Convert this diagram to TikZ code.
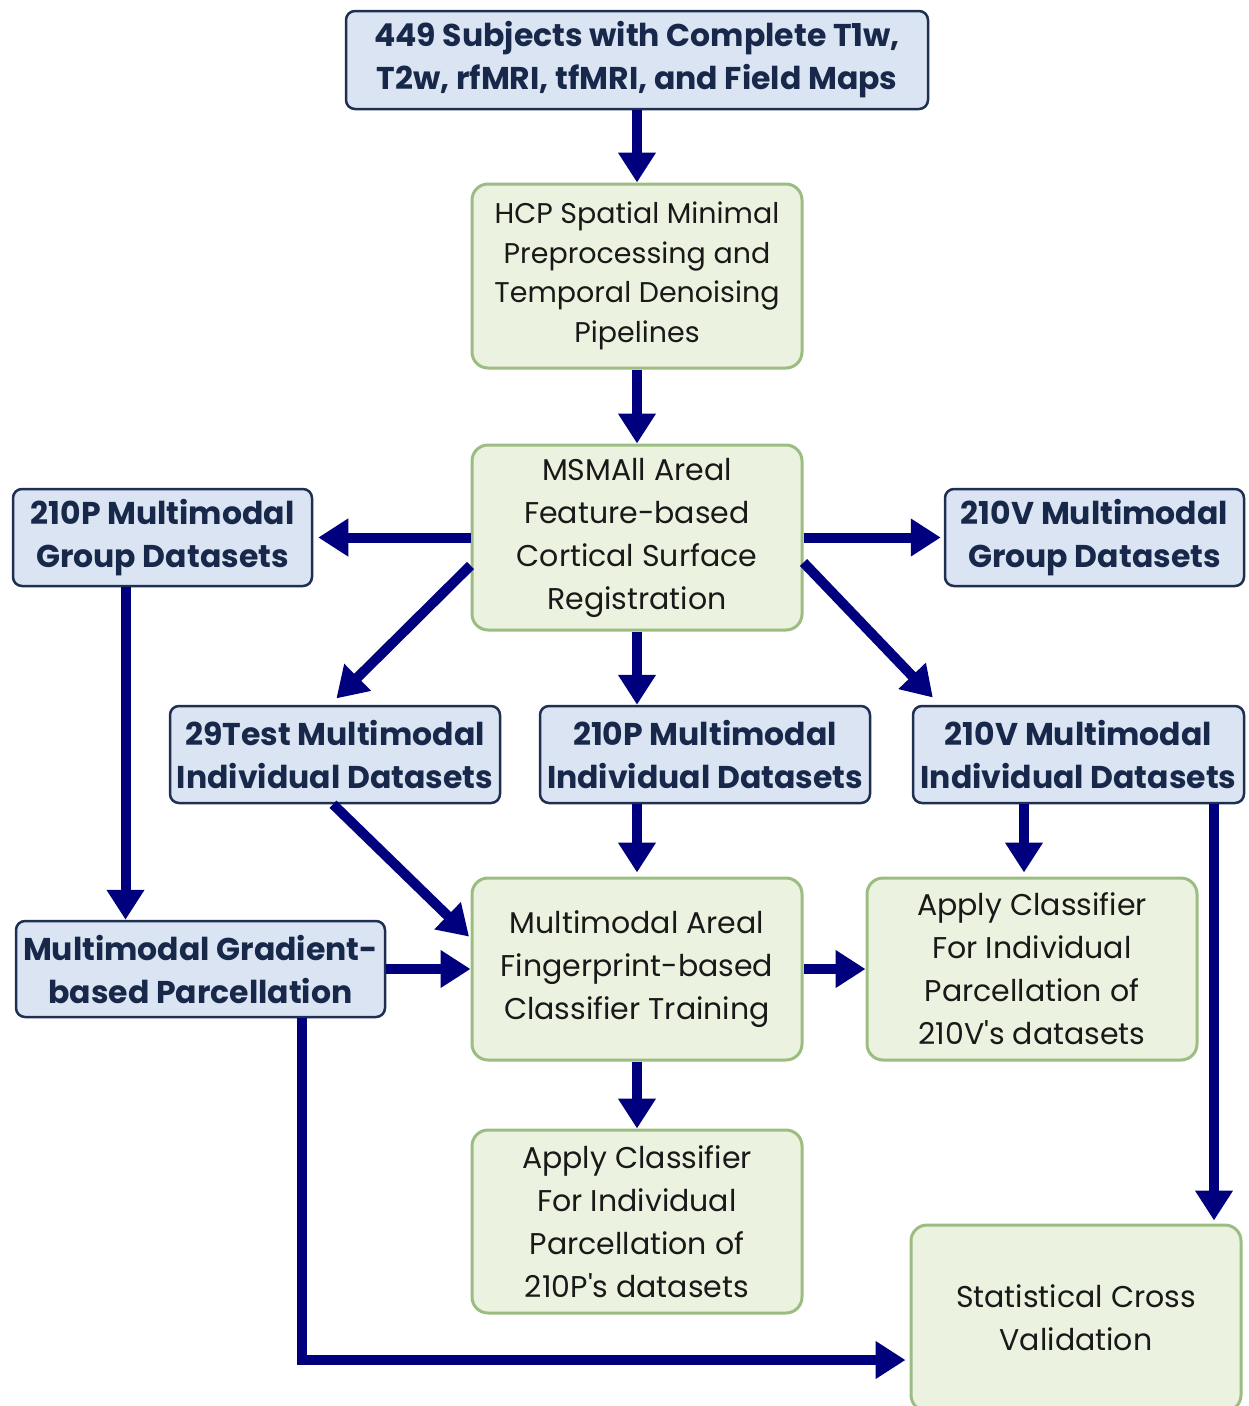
\documentclass[tikz,border=0pt]{standalone}
\usepackage{fontspec}
\setmainfont{Poppins}
\usetikzlibrary{arrows.meta}
\definecolor{bluefill}{HTML}{DAE4F2}
\definecolor{blueline}{HTML}{1E2F52}
\definecolor{bluetext}{HTML}{17284A}
\definecolor{greenfill}{HTML}{EBF3E0}
\definecolor{greenline}{HTML}{9CBD82}
\definecolor{arrowblue}{HTML}{00007F}
\begin{document}
\begin{tikzpicture}[x=1pt,y=-1pt,
    bluebox/.style={draw=blueline,fill=bluefill,line width=2.5pt,rounded corners=9pt,
        align=center,text=bluetext,inner sep=0pt,
        font=\fontsize{31.5}{43}\selectfont\bfseries},
    greenbox/.style={draw=greenline,fill=greenfill,line width=3pt,rounded corners=16pt,
        align=center,text=black!90,inner sep=0pt,minimum width=330pt,
        font=\fontsize{30}{43}\selectfont},
    flow/.style={draw=arrowblue,line width=10pt,-{Triangle[length=30pt,width=36pt]}}]
    \useasboundingbox (0,0) rectangle (1249,1406);
    \node[bluebox,minimum width=582pt,minimum height=98pt] (subj) at (637,60)
        {449 Subjects with Complete T1w,\\T2w, rfMRI, tfMRI, and Field Maps};
    \node[greenbox,minimum height=184pt,font=\fontsize{28.5}{39.5}\selectfont] (hcp) at (637,276)
        {HCP Spatial Minimal\\Preprocessing and\\Temporal Denoising\\Pipelines};
    \node[greenbox,minimum height=185pt] (msm) at (637,537.5)
        {MSMAll Areal\\Feature-based\\Cortical Surface\\Registration};
    \node[bluebox,minimum width=299pt,minimum height=97pt] (pgroup) at (162.5,537.5)
        {210P Multimodal\\Group Datasets};
    \node[bluebox,minimum width=299pt,minimum height=97pt] (vgroup) at (1094.5,537.5)
        {210V Multimodal\\Group Datasets};
    \node[bluebox,minimum width=330pt,minimum height=97pt] (test) at (335,754.5)
        {29Test Multimodal\\Individual Datasets};
    \node[bluebox,minimum width=330pt,minimum height=97pt] (pind) at (705,754.5)
        {210P Multimodal\\Individual Datasets};
    \node[bluebox,minimum width=331pt,minimum height=97pt] (vind) at (1078.5,754.5)
        {210V Multimodal\\Individual Datasets};
    \node[bluebox,minimum width=369pt,minimum height=96pt] (grad) at (200.5,969)
        {Multimodal Gradient-\\based Parcellation};
    \node[greenbox,minimum height=182pt] (train) at (637,969)
        {Multimodal Areal\\Fingerprint-based\\Classifier Training};
    \node[greenbox,minimum height=182pt] (applyv) at (1032,969)
        {Apply Classifier\\For Individual\\Parcellation of\\210V\textquotesingle s datasets};
    \node[greenbox,minimum height=183pt] (applyp) at (637,1221.5)
        {Apply Classifier\\For Individual\\Parcellation of\\210P\textquotesingle s datasets};
    \node[greenbox,minimum height=186pt] (stat) at (1076,1318)
        {Statistical Cross\\Validation};

    \draw[flow] (subj) -- (hcp);
    \draw[flow] (hcp) -- (msm);
    \draw[flow,shorten >=5pt] (msm.west) -- (pgroup.east);
    \draw[flow,shorten >=3pt] (msm.east) -- (vgroup.west);
    \draw[flow,shorten >=9pt] ([yshift=-28pt]msm.west) -- ([xshift=-5pt]test.north);
    \draw[flow,shorten >=10pt] ([yshift=-25pt]msm.east) -- ([xshift=28pt]vind.north west);
    \draw[flow] (msm.south) -- (msm.south |- pind.north);
    \draw[flow] ([xshift=-37pt]pgroup.south) -- ([xshift=-37pt]pgroup.south |- grad.north);
    \draw[flow,shorten >=2pt] ([xshift=-2pt]test.south) -- ([yshift=31pt]train.west);
    \draw[flow,shorten >=4pt] (msm.south |- pind.south) -- (train.north);
    \draw[flow] (grad.east) -- (train.west);
    \draw[flow] (train.east) -- (applyv.west);
    \draw[flow,shorten >=4pt] ([xshift=-8pt]applyv.north |- vind.south) -- ([xshift=-8pt]applyv.north);
    \draw[flow,shorten >=3pt] ([xshift=135.5pt]vind.south) -- ([xshift=135.5pt]vind.south |- stat.north);
    \draw[flow] (train) -- (applyp);
    \draw[flow,shorten >=4pt] ([xshift=101.5pt]grad.south) |- ([yshift=-42pt]stat.west);
\end{tikzpicture}
\end{document}
